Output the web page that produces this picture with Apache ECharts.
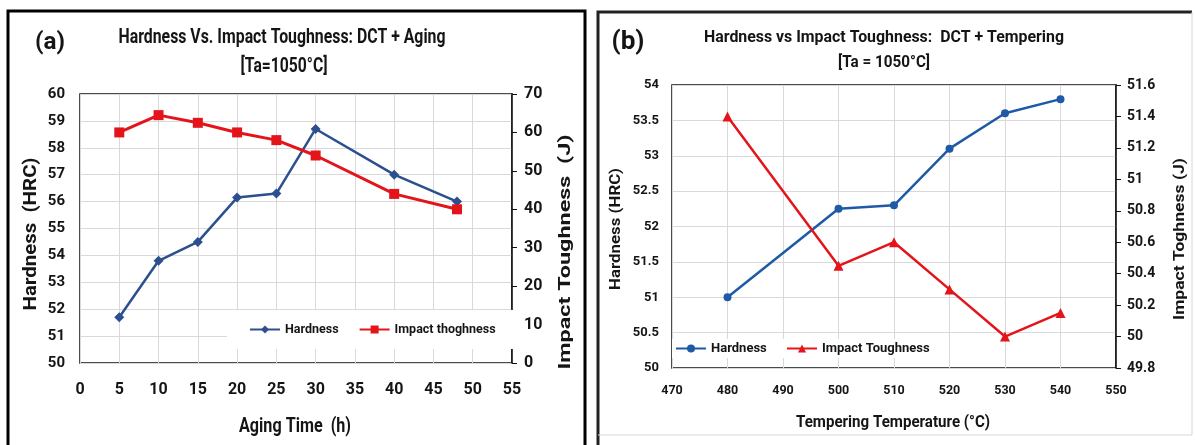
<!DOCTYPE html>
<html><head><meta charset="utf-8">
<script src="https://cdn.jsdelivr.net/npm/echarts@6/dist/echarts.min.js"></script>
<style>html,body{margin:0;padding:0;background:#fff}#c{width:1195px;height:445px}</style>
</head><body><div id="c"></div>
<script>
// Panel (a): DCT + Aging
const agingTime = [5, 10, 15, 20, 25, 30, 40, 48];
const hardnessA = [51.7, 53.8, 54.5, 56.15, 56.3, 58.7, 57.0, 56.0];
const impactA = [60, 64.5, 62.5, 60, 58, 54, 44, 40];
// Panel (b): DCT + Tempering
const tempTemp = [480, 500, 510, 520, 530, 540];
const hardnessB = [51.0, 52.25, 52.3, 53.1, 53.6, 53.8];
const impactB = [51.4, 50.45, 50.6, 50.3, 50.0, 50.15];

const FONT = "Roboto, 'Liberation Sans', sans-serif";
const INK = '#151515';
const pair = (xs, ys) => xs.map((x, i) => [x, ys[i]]);

const mctx = document.createElement('canvas').getContext('2d');
function fit(text, size, target) {
  mctx.font = 'bold ' + size + 'px ' + FONT;
  return target / mctx.measureText(text).width;
}
function gtext(text, cx, cy, size, target, rotate) {
  return {type: 'text', x: cx, y: cy, rotation: rotate ? Math.PI / 2 : 0,
    scaleX: fit(text, size, target), silent: true,
    style: {text: text, fontFamily: FONT, fontWeight: 'bold', fontSize: size, fill: INK,
      textAlign: 'center', textVerticalAlign: 'middle'}};
}

const chart = echarts.init(document.getElementById('c'));
const gridLine = {show: true, lineStyle: {color: '#d9d9d9', width: 1}};
const tickLbl = (size, margin) => ({fontFamily: FONT, fontWeight: 'bold', fontSize: size, color: INK, margin: margin});

chart.setOption({
  animation: false,
  grid: [
    {left: 80, right: 683, top: 94, bottom: 82, show: true, borderColor: '#111', borderWidth: 1.5},
    {left: 672, right: 79, top: 85, bottom: 77, show: true, borderColor: '#111', borderWidth: 1.5}
  ],
  xAxis: [
    {gridIndex: 0, type: 'value', min: 0, max: 55, interval: 5,
     axisLine: {show: false}, axisTick: {show: false}, splitLine: gridLine,
     axisLabel: tickLbl(16, 19)},
    {gridIndex: 1, type: 'value', min: 470, max: 550, interval: 10,
     axisLine: {show: false}, axisTick: {show: false}, splitLine: gridLine,
     axisLabel: tickLbl(12.5, 16)},
  ],
  yAxis: [
    {gridIndex: 0, type: 'value', min: 50, max: 60, interval: 1, position: 'left',
     axisLine: {show: false}, axisTick: {show: false}, splitLine: gridLine,
     axisLabel: tickLbl(15, 15)},
    {gridIndex: 0, type: 'value', min: 0, max: 70, interval: 10, position: 'right',
     axisLine: {show: true, lineStyle: {color: '#111', width: 1.5}},
     axisTick: {show: true, inside: false, length: 5, lineStyle: {color: '#111'}},
     splitLine: {show: false},
     axisLabel: tickLbl(16, 12)},
    {gridIndex: 1, type: 'value', min: 50, max: 54, interval: 0.5, position: 'left',
     axisLine: {show: false}, axisTick: {show: false}, splitLine: gridLine,
     axisLabel: tickLbl(13, 13)},
    {gridIndex: 1, type: 'value', min: 49.8, max: 51.6, interval: 0.2, position: 'right',
     axisLine: {show: true, lineStyle: {color: '#111', width: 1.5}},
     axisTick: {show: true, inside: false, length: 5, lineStyle: {color: '#111'}},
     splitLine: {show: false},
     axisLabel: Object.assign(tickLbl(14, 11), {formatter: v => String(+v.toFixed(1))})}
  ],
  legend: [
    {data: ['Hardness', 'Impact thoghness'], left: 227, top: 310, orient: 'horizontal',
     backgroundColor: '#fff', padding: [13, 22], itemGap: 20, itemWidth: 30, itemHeight: 10,
     textStyle: {fontFamily: FONT, fontWeight: 'bold', fontSize: 12.5, color: INK}},
    {data: ['Hardness ', 'Impact Toughness'], left: 672, top: 339, orient: 'horizontal',
     backgroundColor: '#fff', padding: [3, 3], itemGap: 16, itemWidth: 30, itemHeight: 10,
     textStyle: {fontFamily: FONT, fontWeight: 'bold', fontSize: 13, color: INK}}
  ],
  series: [
    {name: 'Hardness', type: 'line', xAxisIndex: 0, yAxisIndex: 0, data: pair(agingTime, hardnessA),
     symbol: 'diamond', symbolSize: 10, color: '#2c4f8e', lineStyle: {width: 2.5, color: '#2c4f8e'}},
    {name: 'Impact thoghness', type: 'line', xAxisIndex: 0, yAxisIndex: 1, data: pair(agingTime, impactA),
     symbol: 'rect', symbolSize: 10, color: '#e3151b', lineStyle: {width: 3, color: '#e3151b'}},
    {name: 'Hardness ', type: 'line', xAxisIndex: 1, yAxisIndex: 2, data: pair(tempTemp, hardnessB),
     symbol: 'circle', symbolSize: 8, color: '#1f5aa6', lineStyle: {width: 2.5, color: '#1f5aa6'}},
    {name: 'Impact Toughness', type: 'line', xAxisIndex: 1, yAxisIndex: 3, data: pair(tempTemp, impactB),
     symbol: 'triangle', symbolSize: 10, color: '#e3151b', lineStyle: {width: 2.5, color: '#e3151b'}}
  ],
  graphic: [
    {type: 'rect', shape: {x: 8, y: 11, width: 577, height: 445}, style: {fill: 'none', stroke: '#000', lineWidth: 3}, silent: true},
    {type: 'polyline', shape: {points: [[598, 445], [598, 12], [1192, 12]]}, style: {fill: 'none', stroke: '#222', lineWidth: 3}, silent: true},
    {type: 'polyline', shape: {points: [[1192, 12], [1192, 435], [598, 435]]}, style: {fill: 'none', stroke: '#d8d8d8', lineWidth: 1}, silent: true},
    gtext('(a)', 50, 43, 24, 30, false),
    gtext('(b)', 628, 43, 25, 33, false),
    gtext('Hardness Vs. Impact Toughness: DCT + Aging', 282, 38, 21, 327, false),
    gtext('[Ta=1050°C]', 284, 67, 21, 87, false),
    gtext('Hardness vs Impact Toughness:  DCT + Tempering', 884, 38, 16, 360, false),
    gtext('[Ta = 1050°C]', 884, 63, 16, 92, false),
    gtext('Hardness  (HRC)', 31, 234, 18, 153, true),
    gtext('Impact Toughness  (J)', 566, 252, 17, 235, true),
    gtext('Aging Time  (h)', 295, 427, 21, 112, false),
    gtext('Hardness (HRC)', 616, 229, 15, 122, true),
    gtext('Impact Toghness (J)', 1180, 239, 15, 162, true),
    gtext('Tempering Temperature (°C)', 893, 423, 17, 194, false)
  ]
});
</script></body></html>
